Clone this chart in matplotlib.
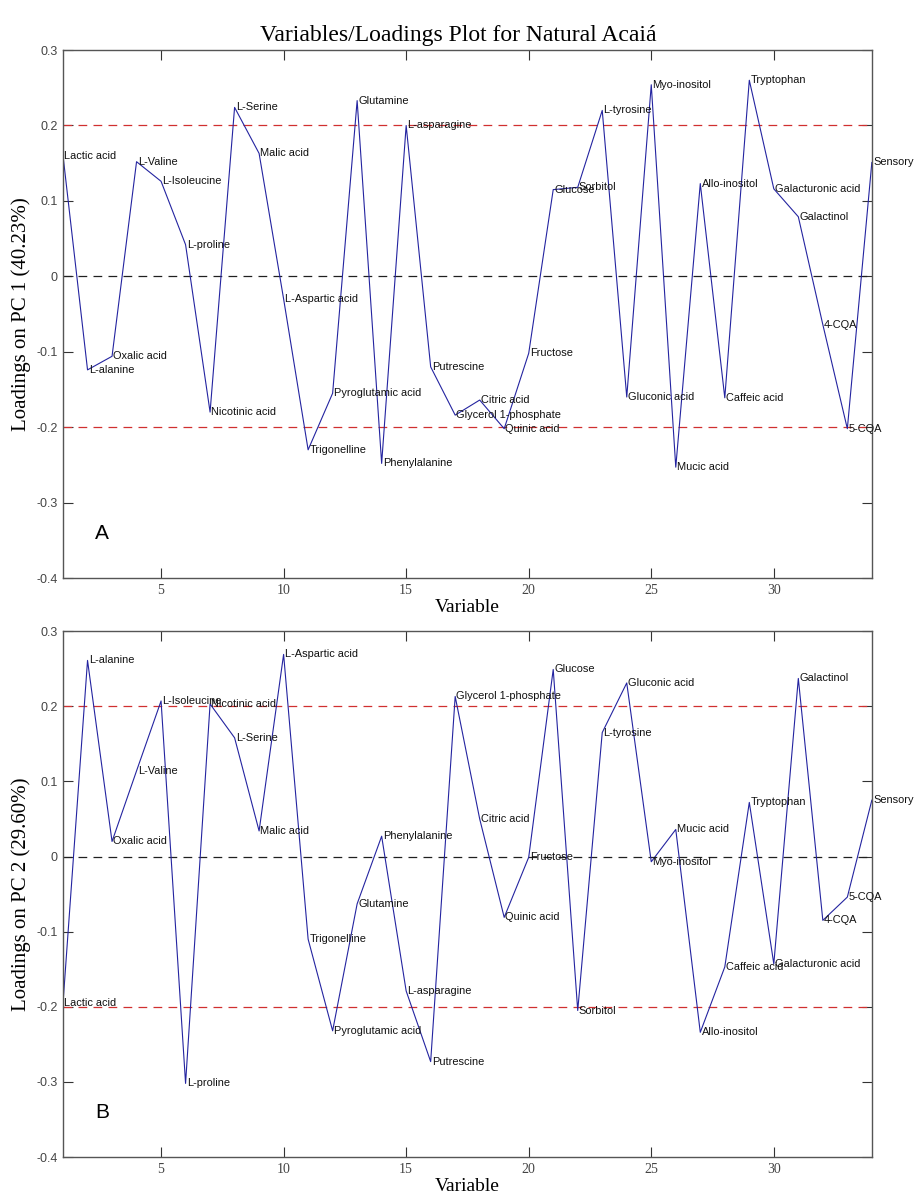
import matplotlib
matplotlib.use('Agg')
import matplotlib.pyplot as plt
import numpy as np

# variable names, in the order they were plotted
names_pc1 = ["Lactic acid", "L-alanine", "Oxalic acid", "L-Valine", "L-Isoleucine",
             "L-proline", "Nicotinic acid", "L-Serine", "Malic acid", "L-Aspartic acid",
             "Trigonelline", "Pyroglutamic acid", "Glutamine", "Phenylalanine", "L-asparagine",
             "Putrescine", "Glycerol 1-phosphate", "Citric acid", "Quinic acid", "Fructose",
             "Glucose", "Sorbitol", "L-tyrosine", "Gluconic acid", "Myo-inositol",
             "Mucic acid", "Allo-inositol", "Caffeic acid", "Tryptophan", "Galacturonic acid",
             "Galactinol", "4-CQA", "5-CQA", "Sensory"]
names_pc2 = names_pc1

loadings_pc1 = [0.160, -0.124, -0.106, 0.152, 0.126, 0.042, -0.180, 0.224, 0.163, -0.030,
                -0.230, -0.155, 0.233, -0.248, 0.200, -0.120, -0.184, -0.164, -0.202, -0.102,
                0.115, 0.118, 0.220, -0.160, 0.254, -0.253, 0.123, -0.161, 0.260, 0.116,
                0.079, -0.064, -0.202, 0.151]

loadings_pc2 = [-0.195, 0.261, 0.020, 0.114, 0.207, -0.302, 0.203, 0.158, 0.034, 0.269,
                -0.110, -0.232, -0.063, 0.027, -0.179, -0.273, 0.213, 0.050, -0.081, -0.001,
                0.249, -0.205, 0.165, 0.231, -0.007, 0.036, -0.234, -0.147, 0.072, -0.143,
                0.237, -0.085, -0.054, 0.075]

ylabels = ["Loadings on PC 1 (40.23%)", "Loadings on PC 2 (29.60%)"]
panel_letters = ["A", "B"]
yticks = [-0.4, -0.3, -0.2, -0.1, 0, 0.1, 0.2, 0.3]
xticks = [5, 10, 15, 20, 25, 30]

serif = "Liberation Serif"
sans = "Liberation Sans"

fig = plt.figure(figsize=(9.16, 11.98), dpi=100)
ax_a = fig.add_axes([0.0688, 0.5175, 0.883, 0.4407])
ax_b = fig.add_axes([0.0688, 0.0342, 0.883, 0.439])

panels = [(ax_a, names_pc1, loadings_pc1), (ax_b, names_pc2, loadings_pc2)]
for i, (ax, names, vals) in enumerate(panels):
    x = np.arange(1, len(vals) + 1)
    ax.axhline(0.2, color='#d03030', lw=0.9, dashes=(7, 5))
    ax.axhline(-0.2, color='#d03030', lw=0.9, dashes=(7, 5))
    ax.axhline(0, color='#202020', lw=0.9, dashes=(7, 5))
    ax.plot(x, vals, color='#2424a0', lw=0.8)
    for xi, v, n in zip(x, vals, names):
        ax.text(xi + 0.05, v, n, fontsize=7.9, family=sans, ha='left', va='center',
                color='#111111', fontstretch='condensed')

    ax.set_xlim(1, 34)
    ax.set_ylim(-0.4, 0.3)
    ax.set_xticks(xticks)
    ax.set_yticks(yticks)
    ax.set_yticklabels([f"{t:g}" for t in yticks])
    ax.tick_params(direction='in', length=7, width=0.8, top=True, right=True,
                   colors='#333333', pad=4)
    for lab in ax.get_xticklabels():
        lab.set_family(serif)
        lab.set_fontsize(10)
        lab.set_color('#444444')
    for lab in ax.get_yticklabels():
        lab.set_family(sans)
        lab.set_fontsize(9)
        lab.set_color('#444444')
    for sp in ax.spines.values():
        sp.set_color('#555555')
        sp.set_linewidth(1.0)

    ax.set_ylabel(ylabels[i], family=serif, fontsize=15, labelpad=4)
    ax.set_xlabel("Variable", family=serif, fontsize=14, labelpad=2)
    ax.text(2.3, -0.348, panel_letters[i], fontsize=15, family=sans)

fig.suptitle("Variables/Loadings Plot for Natural Acaiá", family=serif, fontsize=17, y=0.979)

fig.savefig("out.png", dpi=100)
